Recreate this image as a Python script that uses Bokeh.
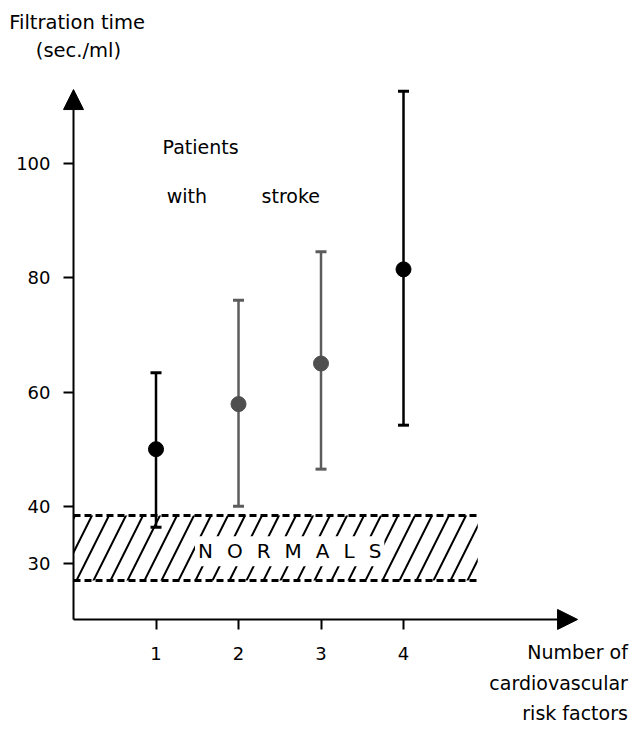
from bokeh.plotting import figure
from bokeh.models import ColumnDataSource, FixedTicker, Label, Arrow, NormalHead, Range1d
from bokeh.embed import file_html
from bokeh.resources import INLINE

# ---- data ----
risk_factors = [1, 2, 3, 4]
mean_time = [50.0, 57.9, 65.0, 81.5]
upper_time = [63.4, 76.1, 84.6, 112.7]
lower_time = [36.3, 40.0, 46.5, 54.2]
point_colors = ["#000000", "#4f4f4f", "#4f4f4f", "#000000"]
bar_colors = ["#000000", "#5c5c5c", "#5c5c5c", "#000000"]

normal_low = 27.0
normal_high = 38.4
normal_x_start = 0.0
normal_x_end = 4.9

y_ticks = [30, 40, 60, 80, 100]
x_ticks = [1, 2, 3, 4]

FONT = "DejaVu Sans"

p = figure(width=634, height=729, output_backend="svg", toolbar_location=None,
           x_range=Range1d(-0.885, 6.80), y_range=Range1d(0.89, 128.6),
           min_border_left=0, min_border_right=0, min_border_top=0, min_border_bottom=0)
p.outline_line_color = None
p.grid.visible = False
p.background_fill_color = "white"

x_axis_level = 20.17

# axes (drawn at fixed locations inside the frame)
p.yaxis.ticker = FixedTicker(ticks=y_ticks)
p.xaxis.ticker = FixedTicker(ticks=x_ticks)
p.yaxis.fixed_location = 0
p.xaxis.fixed_location = x_axis_level
for ax, out, standoff in ((p.yaxis, 10, 13), (p.xaxis, 10, 18)):
    ax.axis_line_color = None
    ax.major_tick_in = 0
    ax.major_tick_out = out
    ax.major_tick_line_width = 2
    ax.major_tick_line_color = "black"
    ax.minor_tick_line_color = None
    ax.major_label_text_font = FONT
    ax.major_label_text_font_size = "18px"
    ax.major_label_text_color = "black"
    ax.major_label_standoff = standoff

# axis arrows
p.add_layout(Arrow(end=NormalHead(size=20, fill_color="black", line_color="black"),
                   x_start=0, y_start=x_axis_level, x_end=0, y_end=113.0,
                   line_width=2, line_color="black"))
p.add_layout(Arrow(end=NormalHead(size=20, fill_color="black", line_color="black"),
                   x_start=0, y_start=x_axis_level, x_end=6.11, y_end=x_axis_level,
                   line_width=2, line_color="black"))

# normals band
p.quad(left=[normal_x_start], right=[normal_x_end], bottom=[normal_low], top=[normal_high],
       fill_alpha=0, line_color=None, hatch_pattern="/", hatch_color="black",
       hatch_weight=2, hatch_scale=34, hatch_alpha=1)
p.segment(x0=[normal_x_start, normal_x_start], x1=[normal_x_end, normal_x_end],
          y0=[normal_high, normal_low], y1=[normal_high, normal_low],
          line_color="black", line_width=3, line_dash="7 4")

# error bars
src = ColumnDataSource(dict(x=risk_factors, y=mean_time, up=upper_time, lo=lower_time,
                            pc=point_colors, bc=bar_colors))
p.segment(x0="x", x1="x", y0="lo", y1="up", line_color="bc", line_width=2.5, source=src)
p.scatter(x="x", y="up", marker="dash", size=11, line_width=3, line_color="bc", source=src)
p.scatter(x="x", y="lo", marker="dash", size=11, line_width=3, line_color="bc", source=src)
p.scatter(x="x", y="y", marker="circle", size=15, fill_color="pc", line_color="pc", source=src)

def lab(x, y, text, align="left", size="19px", bg=None, pad=0):
    p.add_layout(Label(x=x, y=y, text=text, text_font=FONT, text_font_size=size,
                       text_align=align, text_baseline="middle", text_color="black",
                       background_fill_color=bg, padding=pad))

lab(-0.78, 124.75, "Filtration time", size="19.5px")
lab(0.06, 119.8, "(sec./ml)", align="center", size="19.5px")
lab(1.08, 102.9, "Patients")
lab(1.13, 94.4, "with")
lab(2.28, 94.4, "stroke")
gap = "\u2002\u2009"
lab(2.62, 32.1, gap.join("NORMALS"), align="center", size="20px", bg="white", pad=3)
lab(6.72, 14.4, "Number of", align="right")
lab(6.72, 8.95, "cardiovascular", align="right")
lab(6.72, 3.7, "risk factors", align="right")

open("out.html", "w").write(file_html(p, INLINE))
